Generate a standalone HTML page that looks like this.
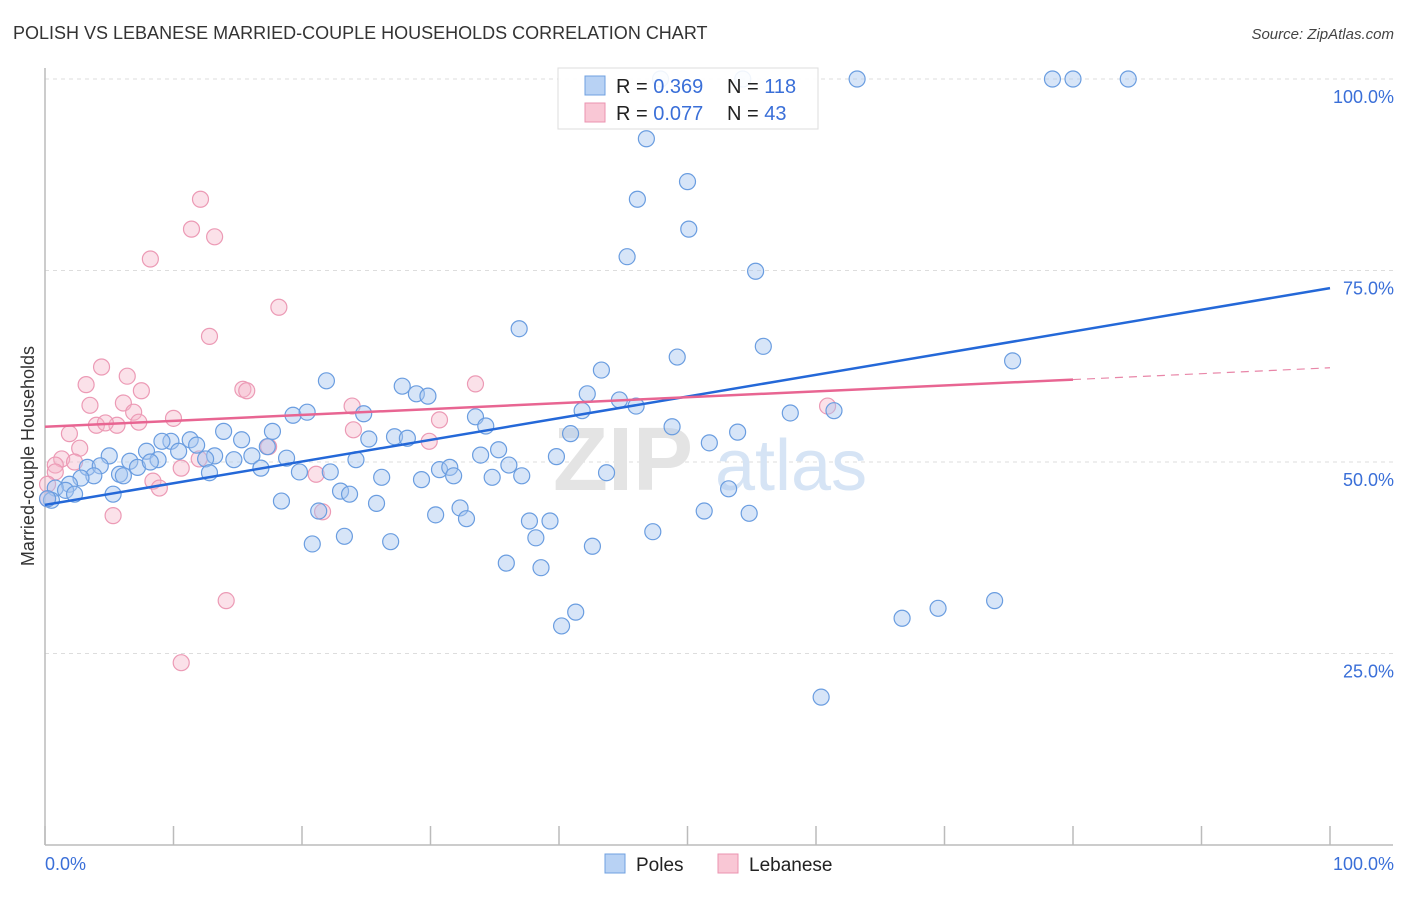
<!DOCTYPE html>
<html><head><meta charset="utf-8"><style>
body{margin:0;background:#fff;font-family:"Liberation Sans",sans-serif;}
svg text{font-family:"Liberation Sans",sans-serif;}
</style></head><body>
<svg id="chart" width="1406" height="892" viewBox="0 0 1406 892" xmlns="http://www.w3.org/2000/svg">
<text x="13" y="39" font-size="18" fill="#333">POLISH VS LEBANESE MARRIED-COUPLE HOUSEHOLDS CORRELATION CHART</text>
<text x="1394" y="39" font-size="15" fill="#444" text-anchor="end" font-style="italic">Source: ZipAtlas.com</text>
<g id="grid"></g>
<g id="watermark">
<text x="553" y="490" font-size="90" fill="#e4e4e4" font-family="Liberation Serif" font-weight="bold">ZIP</text>
<text x="715" y="490" font-size="72" fill="#d6e4f5">atlas</text>
</g>
<line x1="45" y1="68" x2="45" y2="845" stroke="#bbb" stroke-width="1.5"/>
<line x1="45" y1="845" x2="1393" y2="845" stroke="#bbb" stroke-width="1.5"/>
<g id="xticks"></g>
<g id="ylabels"></g>
<text x="45" y="870" font-size="18" fill="#3a6fd8">0.0%</text>
<text x="1394" y="870" font-size="18" fill="#3a6fd8" text-anchor="end">100.0%</text>
<text transform="translate(34,456) rotate(-90)" font-size="18" fill="#333" text-anchor="middle">Married-couple Households</text>
<g id="pinkpts"></g>
<g id="bluepts"></g>
<g id="lines"></g>
<g>
<rect x="558" y="68" width="260" height="61" fill="#fff" fill-opacity="0.9" stroke="#ddd"/>
<rect x="585" y="76" width="20" height="19" fill="#b8d2f4" stroke="#6fa0e0"/>
<rect x="585" y="103" width="20" height="19" fill="#f9c7d5" stroke="#eb93b0"/>
<text x="616" y="93" font-size="20" fill="#222">R = <tspan fill="#3a6fd8">0.369</tspan><tspan x="727">N = </tspan><tspan fill="#3a6fd8">118</tspan></text>
<text x="616" y="120" font-size="20" fill="#222">R = <tspan fill="#3a6fd8">0.077</tspan><tspan x="727">N = </tspan><tspan fill="#3a6fd8"> 43</tspan></text>
</g>
<g>
<rect x="605" y="854" width="20" height="19" fill="#b8d2f4" stroke="#6fa0e0"/>
<text x="636" y="871" font-size="19" fill="#222">Poles</text>
<rect x="718" y="854" width="20" height="19" fill="#f9c7d5" stroke="#eb93b0"/>
<text x="749" y="871" font-size="19" fill="#222">Lebanese</text>
</g>
</svg>
<script>
const yTicks=[25,50,75,100];
const yTickLabels=["25.0%","50.0%","75.0%","100.0%"];
const xTicks=[0,10,20,30,40,50,60,70,80,90,100];
const polesX=[47.9,54.3,63.2,78.4,80.0,84.3,46.8,50.0,46.1,50.1,45.3,55.3,36.9,55.9,49.2,75.3,43.3,21.9,27.8,42.2,28.9,29.8,44.7,46.0,58.0,61.4,41.8,19.3,20.4,24.8,33.5,34.3,48.8,40.9,53.9,13.9,17.7,25.2,27.2,28.2,15.3,9.8,11.3,9.1,51.7,35.3,33.9,17.3,11.8,7.9,10.4,5.0,13.2,16.1,18.8,24.2,39.8,6.6,8.8,14.7,12.5,36.1,3.3,4.3,7.2,8.2,16.8,19.8,22.2,30.7,31.5,43.7,5.8,6.1,3.8,2.8,12.8,26.2,29.3,31.8,34.8,37.1,1.9,0.8,1.6,2.3,5.3,23.0,23.7,53.2,18.4,25.8,32.3,0.5,30.4,32.8,51.3,54.8,21.3,37.7,39.3,47.3,38.2,23.3,20.8,26.9,42.6,35.9,38.6,41.3,40.2,66.7,69.5,73.9,60.4,0.2];
const polesY=[100,100,100,100,100,100,92.2,86.6,84.3,80.4,76.8,74.9,67.4,65.1,63.7,63.2,62.0,60.6,59.9,58.9,58.9,58.6,58.1,57.3,56.4,56.7,56.7,56.1,56.5,56.3,55.9,54.7,54.6,53.7,53.9,54.0,54.0,53.0,53.3,53.1,52.9,52.7,52.9,52.7,52.5,51.6,50.9,52.0,52.2,51.4,51.4,50.8,50.8,50.8,50.5,50.3,50.7,50.1,50.3,50.3,50.4,49.6,49.3,49.5,49.3,50.0,49.2,48.7,48.7,49.0,49.3,48.6,48.4,48.2,48.2,47.9,48.6,48.0,47.7,48.2,48.0,48.2,47.1,46.6,46.3,45.8,45.8,46.2,45.8,46.5,44.9,44.6,44.0,45.0,43.1,42.6,43.6,43.3,43.6,42.3,42.3,40.9,40.1,40.3,39.3,39.6,39.0,36.8,36.2,30.4,28.6,29.6,30.9,31.9,19.3,45.2];
const lebX=[12.1,11.4,13.2,8.2,18.2,12.8,4.4,6.4,3.2,7.5,15.4,15.7,33.5,3.5,6.1,6.9,10.0,23.9,4.0,5.6,4.7,7.3,30.7,24.0,29.9,1.9,2.7,1.3,17.4,0.8,2.3,12.0,10.6,0.8,8.4,8.9,0.2,0.2,5.3,21.6,21.1,14.1,10.6,60.9];
const lebY=[84.3,80.4,79.4,76.5,70.2,66.4,62.4,61.2,60.1,59.3,59.5,59.3,60.2,57.4,57.7,56.5,55.7,57.3,54.8,54.8,55.1,55.2,55.5,54.2,52.7,53.7,51.8,50.4,52.0,49.6,50.0,50.4,49.2,48.7,47.5,46.6,47.1,45.2,43.0,43.5,48.4,31.9,23.8,57.3];
const polesTrend=[44.4,72.7];   // y at x=0, x=100
const lebTrend=[54.6,62.3];     // y at x=0, x=100
const lebSolidEnd=80;

const X0=45,X1=1330,Y0=845,Y100=79;
const sx=v=>X0+(X1-X0)*v/100;
const sy=v=>Y0-(Y0-Y100)*v/100;
const NS="http://www.w3.org/2000/svg";
function mk(tag,attrs,parent){const e=document.createElementNS(NS,tag);for(const k in attrs)e.setAttribute(k,attrs[k]);parent.appendChild(e);return e;}
const grid=document.getElementById('grid'),yl=document.getElementById('ylabels'),xt=document.getElementById('xticks');
yTicks.forEach((t,i)=>{
  const l=mk('line',{x1:45,x2:1393,y1:sy(t),y2:sy(t),stroke:'#ddd','stroke-dasharray':'4,4'},grid);
  
  
  const tx=mk('text',{x:1394,y:sy(t)+24,'font-size':18,fill:'#3a6fd8','text-anchor':'end'},yl);
  tx.textContent=yTickLabels[i];
  
  
});
xTicks.forEach(t=>{
  const l=mk('line',{x1:sx(t),x2:sx(t),y1:826,y2:845,stroke:'#bbb','stroke-width':1.5},xt);
  
  
});
const pg=document.getElementById('pinkpts');
lebX.forEach((x,i)=>{
  const c=mk('circle',{cx:sx(x),cy:sy(lebY[i]),r:8,fill:'#f5b3c7','fill-opacity':0.4,stroke:'#ec9ab5','stroke-width':1.2},pg);
  
  
});
const bg=document.getElementById('bluepts');
polesX.forEach((x,i)=>{
  const c=mk('circle',{cx:sx(x),cy:sy(polesY[i]),r:8,fill:'#a7c6ef','fill-opacity':0.45,stroke:'#6a9de0','stroke-width':1.2},bg);
  
  
});
const lg=document.getElementById('lines');
const ly=x=>lebTrend[0]+(lebTrend[1]-lebTrend[0])*x/100;
let l1=mk('line',{x1:sx(0),y1:sy(polesTrend[0]),x2:sx(100),y2:sy(polesTrend[1]),stroke:'#2468d8','stroke-width':2.5},lg);


let l2=mk('line',{x1:sx(0),y1:sy(ly(0)),x2:sx(lebSolidEnd),y2:sy(ly(lebSolidEnd)),stroke:'#e86592','stroke-width':2.5},lg);


let l3=mk('line',{x1:sx(lebSolidEnd),y1:sy(ly(lebSolidEnd)),x2:sx(100),y2:sy(ly(100)),stroke:'#e886a8','stroke-width':1.2,'stroke-dasharray':'8,6'},lg);


</script>
</body></html>
